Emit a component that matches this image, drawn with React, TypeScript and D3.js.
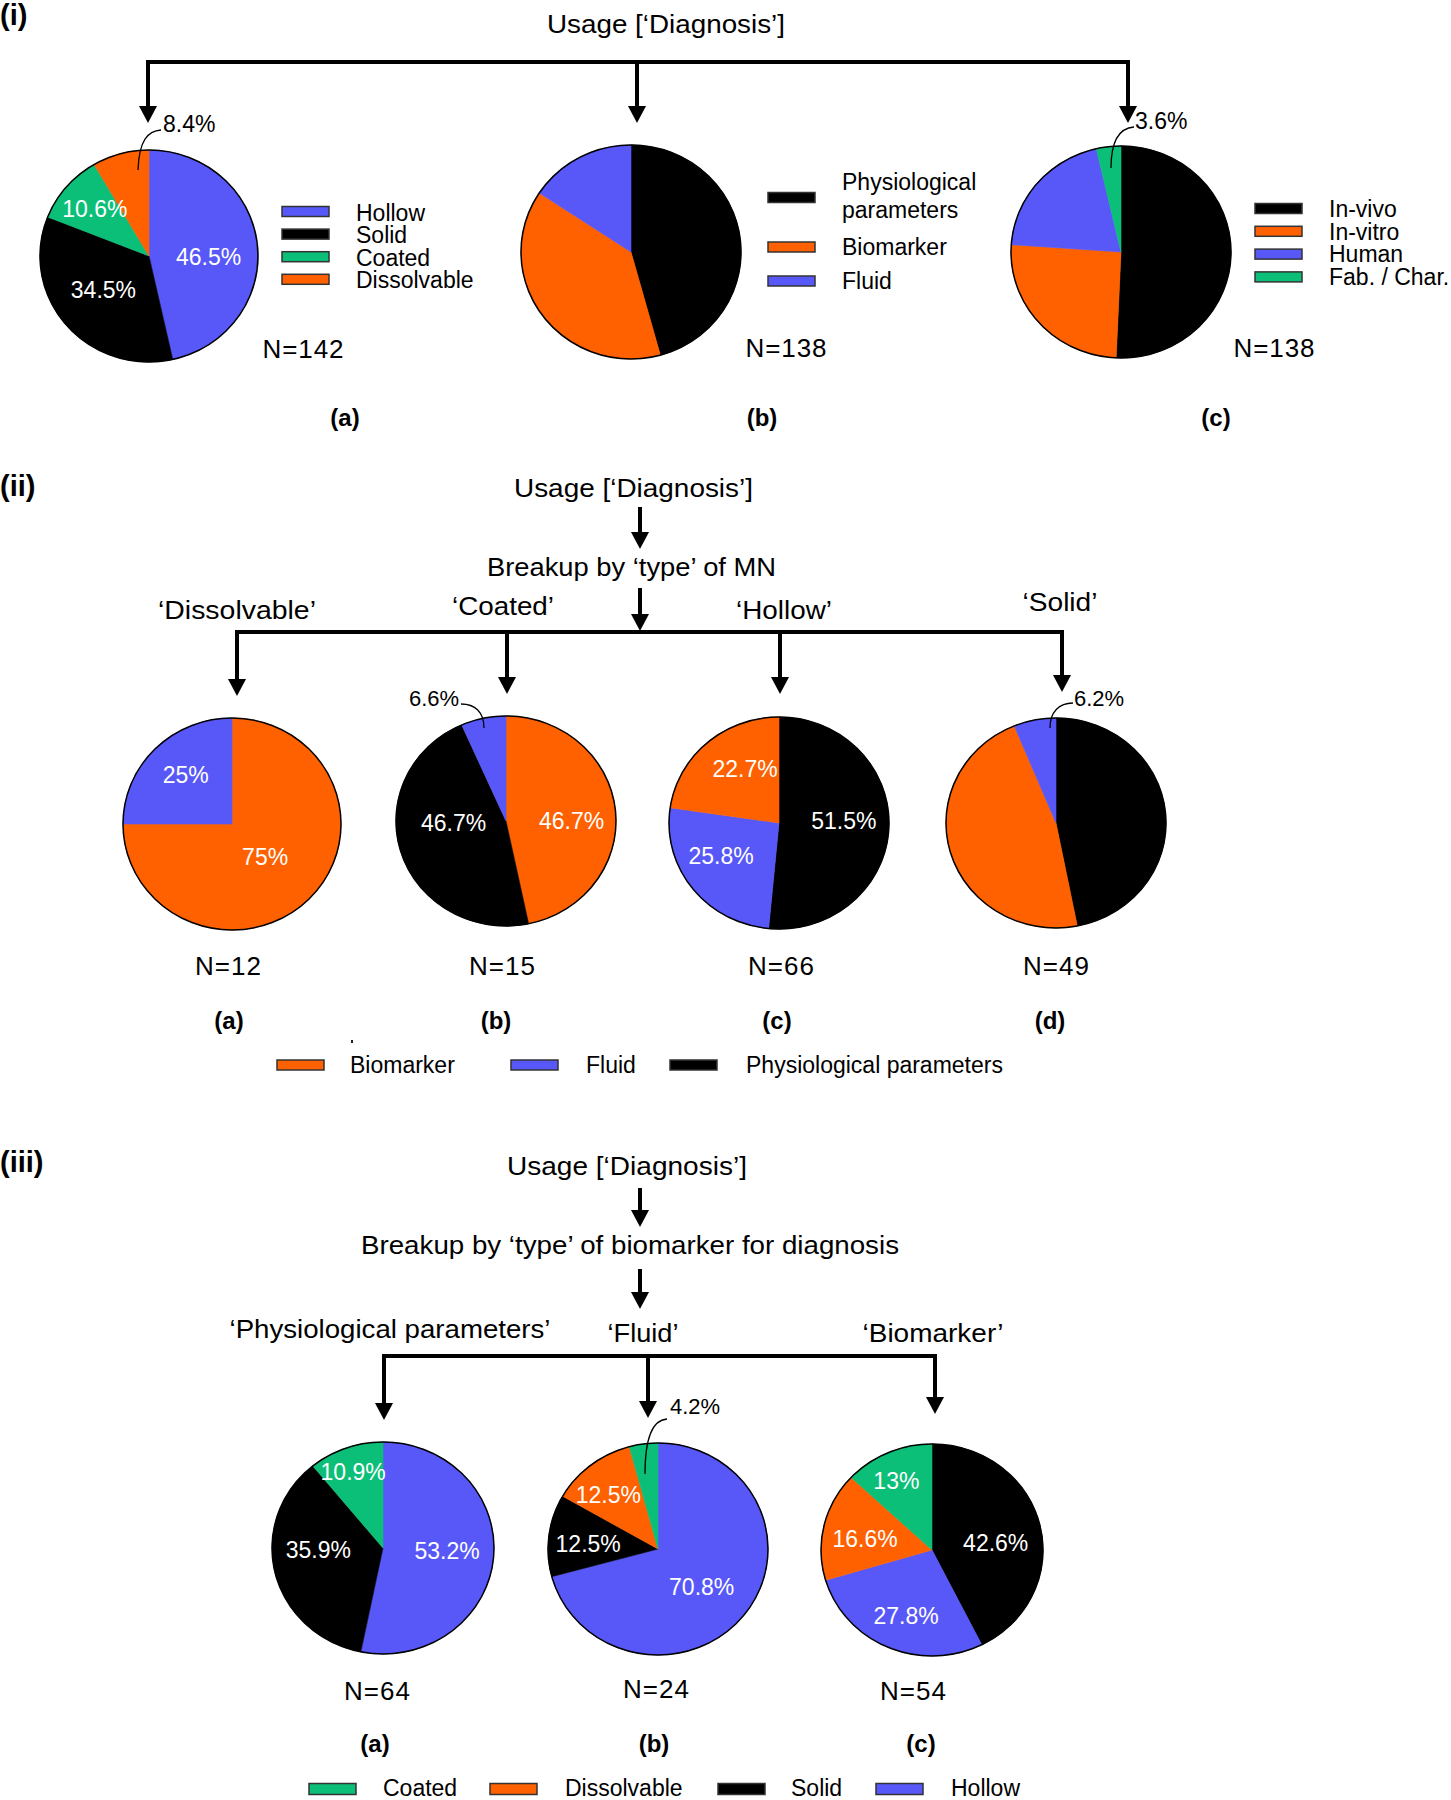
import React from 'react';
import * as d3 from 'd3';

// ---------- data ----------
// (i) overall diagnosis usage
const typeCats = ['Hollow', 'Solid', 'Coated', 'Dissolvable'];
const typeShares = [46.5, 34.5, 10.6, 8.4];
const diagCats = ['Physiological parameters', 'Biomarker', 'Fluid'];
const diagShares = [45.7, 38.6, 15.7];
const studyCats = ['In-vivo', 'In-vitro', 'Human', 'Fab. / Char.'];
const studyShares = [50.7, 25.4, 20.3, 3.6];
const sectionIN = [142, 138, 138];

// (ii) breakup by type of MN
const dissolvableCats = ['Biomarker', 'Fluid'];
const dissolvableShares = [75, 25];
const coatedCats = ['Biomarker', 'Physiological parameters', 'Fluid'];
const coatedShares = [46.7, 46.7, 6.6];
const hollowCats = ['Physiological parameters', 'Fluid', 'Biomarker'];
const hollowShares = [51.5, 25.8, 22.7];
const solidCats = ['Physiological parameters', 'Biomarker', 'Fluid'];
const solidShares = [46.9, 46.9, 6.2];
const sectionIIN = [12, 15, 66, 49];
const sectionIILabels = ['‘Dissolvable’', '‘Coated’', '‘Hollow’', '‘Solid’'];

// (iii) breakup by type of biomarker
const physCats = ['Hollow', 'Solid', 'Coated'];
const physShares = [53.2, 35.9, 10.9];
const fluidCats = ['Hollow', 'Solid', 'Dissolvable', 'Coated'];
const fluidShares = [70.8, 12.5, 12.5, 4.2];
const biomCats = ['Solid', 'Hollow', 'Dissolvable', 'Coated'];
const biomShares = [42.6, 27.8, 16.6, 13];
const sectionIIIN = [64, 24, 54];
const sectionIIILabels = ['‘Physiological parameters’', '‘Fluid’', '‘Biomarker’'];

const subLetters = ['(a)', '(b)', '(c)', '(d)'];

// ---------- styles ----------
const BLUE = '#5858F8';
const ORANGE = '#FF6100';
const GREEN = '#0BBF78';
const BLACK = '#000000';
const colorScale = d3
  .scaleOrdinal<string, string>()
  .domain(['Hollow', 'Fluid', 'Human', 'Solid', 'Physiological parameters', 'In-vivo', 'Coated', 'Fab. / Char.', 'Dissolvable', 'Biomarker', 'In-vitro'])
  .range([BLUE, BLUE, BLUE, BLACK, BLACK, BLACK, GREEN, GREEN, ORANGE, ORANGE, ORANGE]);

const FONT = '"Liberation Sans", Arial, Helvetica, sans-serif';

type LabelSpec = { i: number; f: number; dx?: number; dy?: number };

function Pie(props: {
  cx: number; cy: number; rx: number; ry: number;
  cats: string[]; shares: number[]; labels: LabelSpec[];
}) {
  const { cx, cy, rx, ry, cats, shares, labels } = props;
  const arcs = d3.pie<number>().sort(null).value((d) => d)(shares);
  const arcGen = d3.arc<d3.PieArcDatum<number>>().innerRadius(0).outerRadius(rx);
  return (
    <g>
      <g transform={`translate(${cx},${cy}) scale(1,${ry / rx})`}>
        {arcs.map((a, i) => (
          <path key={i} d={arcGen(a) || ''} fill={colorScale(cats[i])} stroke={colorScale(cats[i])} strokeWidth={0.6} />
        ))}
      </g>
      <ellipse cx={cx} cy={cy} rx={rx} ry={ry} fill="none" stroke="#000" strokeWidth={1.5} />
      {labels.map((l) => {
        const a = arcs[l.i];
        const m = (a.startAngle + a.endAngle) / 2;
        const x = cx + l.f * rx * Math.sin(m) + (l.dx || 0);
        const y = cy - l.f * ry * Math.cos(m) + (l.dy || 0);
        return (
          <text key={l.i} x={x} y={y} dy="0.36em" textAnchor="middle" fill="#fff" fontSize={23} fontFamily={FONT}>
            {`${shares[l.i]}%`}
          </text>
        );
      })}
    </g>
  );
}

function DownArrow({ x, y1, y2 }: { x: number; y1: number; y2: number }) {
  return (
    <g>
      <line x1={x} y1={y1} x2={x} y2={y2 - 15} stroke="#000" strokeWidth={4} />
      <polygon points={`${x - 9},${y2 - 17} ${x + 9},${y2 - 17} ${x},${y2}`} fill="#000" />
    </g>
  );
}

function Bracket({ xs, y, tips }: { xs: number[]; y: number; tips: number[] }) {
  const x0 = xs[0];
  const x1 = xs[xs.length - 1];
  return (
    <g>
      <path d={`M${x0},${tips[0] - 15} V${y} H${x1} V${tips[tips.length - 1] - 15}`} fill="none" stroke="#000" strokeWidth={4} strokeLinejoin="miter" />
      {xs.map((x, i) => (
        <DownArrow key={i} x={x} y1={y} y2={tips[i]} />
      ))}
    </g>
  );
}

function T(props: any) {
  const { children, ...rest } = props;
  return (
    <text fontFamily={FONT} fill="#000" {...rest}>
      {children}
    </text>
  );
}

function Swatch({ x, y, cat, w = 47, h = 10 }: { x: number; y: number; cat: string; w?: number; h?: number }) {
  return <rect x={x} y={y - h / 2} width={w} height={h} fill={colorScale(cat)} stroke="#333" strokeWidth={1.5} />;
}

function Leader({ d }: { d: string }) {
  return <path d={d} fill="none" stroke="#000" strokeWidth={1.3} />;
}

export default function App() {
  // ---- section geometry ----
  const iPies = [
    { cx: 149, cy: 256, rx: 109, ry: 106 },
    { cx: 631, cy: 252, rx: 110, ry: 107 },
    { cx: 1121, cy: 252, rx: 110, ry: 106 },
  ];
  const iiPies = [
    { cx: 232, cy: 824, rx: 109, ry: 106 },
    { cx: 506, cy: 821, rx: 110, ry: 105 },
    { cx: 779, cy: 823, rx: 110, ry: 106 },
    { cx: 1056, cy: 823, rx: 110, ry: 105 },
  ];
  const iiiPies = [
    { cx: 383, cy: 1548, rx: 111, ry: 106 },
    { cx: 658, cy: 1549, rx: 110, ry: 106 },
    { cx: 932, cy: 1550, rx: 111, ry: 106 },
  ];
  const iiData = [
    { cats: dissolvableCats, shares: dissolvableShares, labels: [{ i: 0, f: 0.43 }, { i: 1, f: 0.6, dy: -4 }] },
    { cats: coatedCats, shares: coatedShares, labels: [{ i: 0, f: 0.6, dy: 6 }, { i: 1, f: 0.5, dy: -14 }] },
    { cats: hollowCats, shares: hollowShares, labels: [{ i: 0, f: 0.59, dy: -5 }, { i: 1, f: 0.67, dy: -11 }, { i: 2, f: 0.5, dx: 2, dy: -14 }] },
    { cats: solidCats, shares: solidShares, labels: [] as LabelSpec[] },
  ];
  const iiiData = [
    { cats: physCats, shares: physShares, labels: [{ i: 0, f: 0.58, dy: -3 }, { i: 1, f: 0.6, dy: -14 }, { i: 2, f: 0.72, dx: -3, dy: -4 }] },
    { cats: fluidCats, shares: fluidShares, labels: [{ i: 0, f: 0.5, dy: 5 }, { i: 1, f: 0.64, dy: 3 }, { i: 2, f: 0.74, dy: 8 }] },
    { cats: biomCats, shares: biomShares, labels: [{ i: 0, f: 0.59, dy: 7 }, { i: 1, f: 0.68, dx: 4 }, { i: 2, f: 0.62, dy: 4 }, { i: 3, f: 0.74, dx: -3, dy: 3 }] },
  ];

  const iNpos = [{ x: 303, y: 358 }, { x: 786, y: 357 }, { x: 1274, y: 357 }];
  const iLetters = [345, 762, 1216];
  const iiNx = [228, 502, 781, 1056];
  const iiLetters = [229, 496, 777, 1050];
  const iiCatPos = [
    { x: 237, y: 619, w: 158 },
    { x: 503, y: 615, w: 102 },
    { x: 784, y: 619, w: 96 },
    { x: 1060, y: 611, w: 75 },
  ];
  const iiiNx = [377, 656, 913];
  const iiiNy = [1700, 1698, 1700];
  const iiiLetters = [375, 654, 921];
  const iiiCatPos = [
    { x: 390, y: 1338, w: 321 },
    { x: 643, y: 1342, w: 71 },
    { x: 933, y: 1342, w: 141 },
  ];

  return (
    <div>
      <style>{'body{margin:0;background:#fff}'}</style>
      <svg width={1451} height={1800} style={{ display: 'block' }} xmlns="http://www.w3.org/2000/svg">
        <rect x={0} y={0} width={1451} height={1800} fill="#fff" />

        {/* ================= (i) ================= */}
        <T x={0} y={25} fontSize={29} fontWeight="bold">(i)</T>
        <T x={547} y={33} fontSize={25} textLength={238} lengthAdjust="spacingAndGlyphs">Usage [‘Diagnosis’]</T>
        <Bracket xs={[148, 637, 1128]} y={62} tips={[123, 123, 123]} />

        <Pie {...iPies[0]} cats={typeCats} shares={typeShares}
          labels={[{ i: 0, f: 0.55, dy: 7 }, { i: 1, f: 0.55, dy: -4 }, { i: 2, f: 0.68, dx: 2 }]} />
        <Leader d="M161,130 C148,131 139,140 138,170" />
        <T x={163} y={132} fontSize={23}>{`${typeShares[3]}%`}</T>
        {typeCats.map((c, i) => (
          <g key={c}>
            <Swatch x={282} y={211.5 + i * 22.6} cat={c} />
            <T x={356} y={220.5 + i * 22.6} fontSize={23}>{c}</T>
          </g>
        ))}

        <Pie {...iPies[1]} cats={diagCats} shares={diagShares} labels={[]} />
        <Swatch x={768} y={197.5} cat={diagCats[0]} />
        <T x={842} y={190} fontSize={23}>Physiological</T>
        <T x={842} y={218} fontSize={23}>parameters</T>
        <Swatch x={768} y={247} cat={diagCats[1]} />
        <T x={842} y={255} fontSize={23}>{diagCats[1]}</T>
        <Swatch x={768} y={281} cat={diagCats[2]} />
        <T x={842} y={289} fontSize={23}>{diagCats[2]}</T>

        <Pie {...iPies[2]} cats={studyCats} shares={studyShares} labels={[]} />
        <Leader d="M1134,127 C1121,128 1111,138 1111,168" />
        <T x={1135} y={129} fontSize={23}>{`${studyShares[3]}%`}</T>
        {studyCats.map((c, i) => (
          <g key={c}>
            <Swatch x={1255} y={208.5 + i * 22.8} cat={c} />
            <T x={1329} y={217 + i * 22.7} fontSize={23}>{c}</T>
          </g>
        ))}

        {sectionIN.map((n, i) => (
          <T key={i} x={iNpos[i].x} y={iNpos[i].y} fontSize={26} textAnchor="middle" textLength={81} lengthAdjust="spacing">{`N=${n}`}</T>
        ))}
        {iLetters.map((x, i) => (
          <T key={i} x={x} y={426} fontSize={24} fontWeight="bold" textAnchor="middle">{subLetters[i]}</T>
        ))}

        {/* ================= (ii) ================= */}
        <T x={0} y={496} fontSize={29} fontWeight="bold">(ii)</T>
        <T x={514} y={497} fontSize={25} textLength={239} lengthAdjust="spacingAndGlyphs">Usage [‘Diagnosis’]</T>
        <DownArrow x={640} y1={507} y2={549} />
        <T x={487} y={576} fontSize={25} textLength={289} lengthAdjust="spacingAndGlyphs">Breakup by ‘type’ of MN</T>
        <DownArrow x={640} y1={588} y2={631} />
        <Bracket xs={[237, 507, 780, 1062]} y={632} tips={[696, 694, 694, 692]} />
        {sectionIILabels.map((s, i) => (
          <T key={s} x={iiCatPos[i].x - iiCatPos[i].w / 2} y={iiCatPos[i].y} fontSize={25} textLength={iiCatPos[i].w} lengthAdjust="spacingAndGlyphs">{s}</T>
        ))}
        {iiPies.map((p, i) => (
          <Pie key={i} {...p} cats={iiData[i].cats} shares={iiData[i].shares} labels={iiData[i].labels} />
        ))}
        <Leader d="M461,704 C475,704 484,712 484,728" />
        <T x={409} y={706} fontSize={22}>{`${coatedShares[2]}%`}</T>
        <Leader d="M1073,703 C1059,703 1050,712 1050,728" />
        <T x={1074} y={706} fontSize={22}>{`${solidShares[2]}%`}</T>
        {sectionIIN.map((n, i) => (
          <T key={i} x={iiNx[i]} y={975} fontSize={26} textAnchor="middle" textLength={66} lengthAdjust="spacing">{`N=${n}`}</T>
        ))}
        {iiLetters.map((x, i) => (
          <T key={i} x={x} y={1029} fontSize={24} fontWeight="bold" textAnchor="middle">{subLetters[i]}</T>
        ))}
        <rect x={351} y={1040} width={2} height={3} fill="#222" />
        <Swatch x={277} y={1065} cat="Biomarker" />
        <T x={350} y={1073} fontSize={23}>Biomarker</T>
        <Swatch x={511} y={1065} cat="Fluid" />
        <T x={586} y={1073} fontSize={23}>Fluid</T>
        <Swatch x={670} y={1065} cat="Physiological parameters" />
        <T x={746} y={1073} fontSize={23}>Physiological parameters</T>

        {/* ================= (iii) ================= */}
        <T x={0} y={1172} fontSize={29} fontWeight="bold">(iii)</T>
        <T x={507} y={1175} fontSize={25} textLength={240} lengthAdjust="spacingAndGlyphs">Usage [‘Diagnosis’]</T>
        <DownArrow x={640} y1={1188} y2={1227} />
        <T x={361} y={1254} fontSize={25} textLength={538} lengthAdjust="spacingAndGlyphs">Breakup by ‘type’ of biomarker for diagnosis</T>
        <DownArrow x={640} y1={1269} y2={1309} />
        {sectionIIILabels.map((s, i) => (
          <T key={s} x={iiiCatPos[i].x - iiiCatPos[i].w / 2} y={iiiCatPos[i].y} fontSize={25} textLength={iiiCatPos[i].w} lengthAdjust="spacingAndGlyphs">{s}</T>
        ))}
        <Bracket xs={[384, 648, 935]} y={1356} tips={[1420, 1418, 1414]} />
        {iiiPies.map((p, i) => (
          <Pie key={i} {...p} cats={iiiData[i].cats} shares={iiiData[i].shares} labels={iiiData[i].labels} />
        ))}
        <Leader d="M667,1419 C652,1420 645,1440 645,1474" />
        <T x={670} y={1414} fontSize={22}>{`${fluidShares[3]}%`}</T>
        {sectionIIIN.map((n, i) => (
          <T key={i} x={iiiNx[i]} y={iiiNy[i]} fontSize={26} textAnchor="middle" textLength={66} lengthAdjust="spacing">{`N=${n}`}</T>
        ))}
        {iiiLetters.map((x, i) => (
          <T key={i} x={x} y={1752} fontSize={24} fontWeight="bold" textAnchor="middle">{subLetters[i]}</T>
        ))}
        {[
          { c: 'Coated', sx: 309, tx: 383 },
          { c: 'Dissolvable', sx: 490, tx: 565 },
          { c: 'Solid', sx: 718, tx: 791 },
          { c: 'Hollow', sx: 876, tx: 951 },
        ].map((e) => (
          <g key={e.c}>
            <Swatch x={e.sx} y={1789} cat={e.c} h={11} />
            <T x={e.tx} y={1796} fontSize={23}>{e.c}</T>
          </g>
        ))}
      </svg>
    </div>
  );
}
